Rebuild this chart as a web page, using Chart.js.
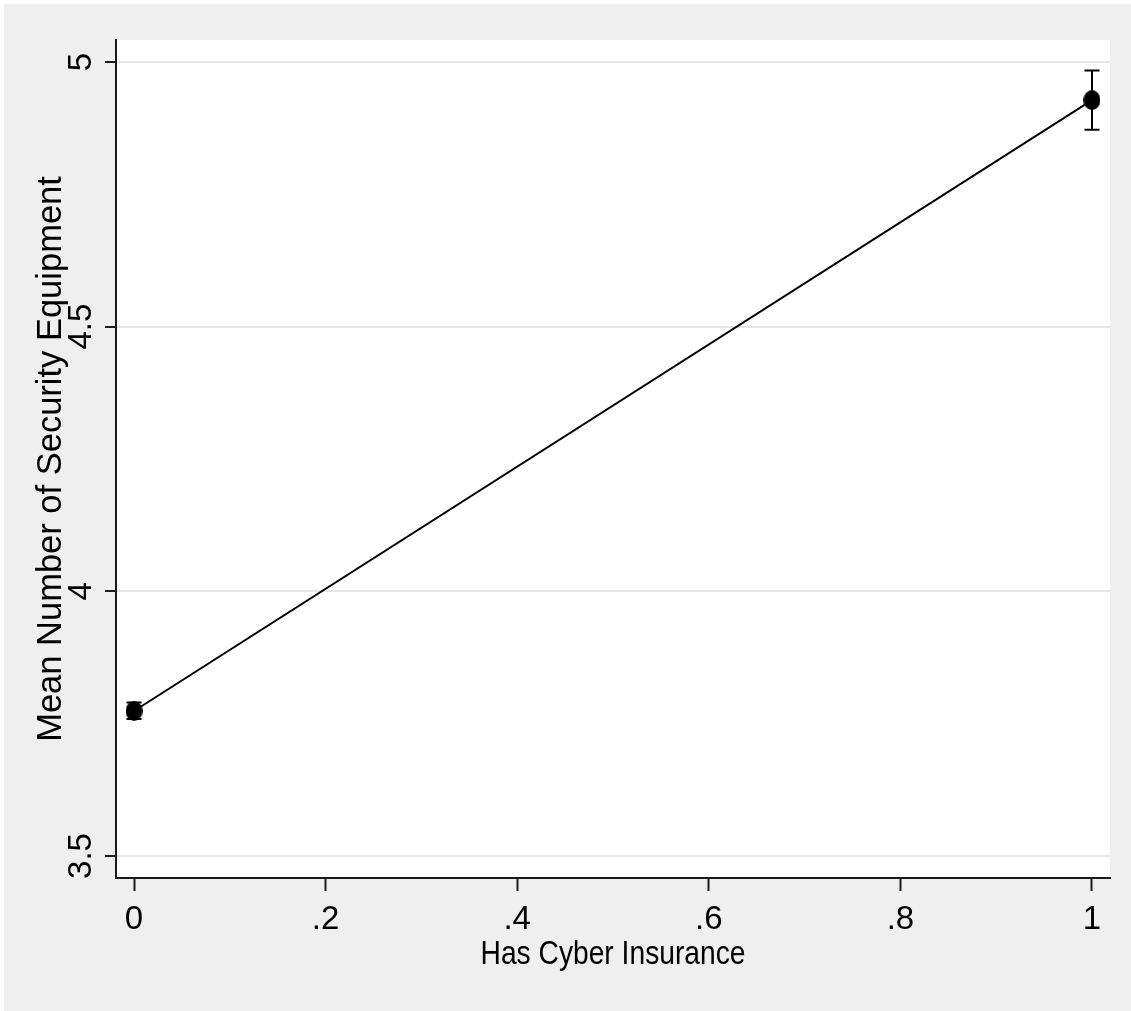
<!DOCTYPE html>
<html>
<head>
<meta charset="utf-8">
<title>Mean Number of Security Equipment by Cyber Insurance</title>
<script src="https://cdn.jsdelivr.net/npm/chart.js@4.4.1/dist/chart.umd.min.js"></script>
<style>
  html, body { margin: 0; padding: 0; background: #ffffff; }
  #wrap { width: 1131px; height: 1011px; }
  canvas { display: block; }
</style>
</head>
<body>
<div id="wrap"><canvas id="chart" width="1131" height="1011"></canvas></div>
<script>
// Has Cyber Insurance (0/1) and the mean equipment count with its confidence interval
const insurance = [0, 1];
const meanEquipment = [3.774, 4.928];
const ciLower = [3.759, 4.872];
const ciUpper = [3.790, 4.984];

// Axis ticks
const xTickValues = [0, 0.2, 0.4, 0.6, 0.8, 1];
const xTickLabels = ['0', '.2', '.4', '.6', '.8', '1'];
const yTickValues = [3.5, 4, 4.5, 5];
const yTickLabels = ['3.5', '4', '4.5', '5'];

const xTitleText = 'Has Cyber Insurance';
const yTitleText = 'Mean Number of Security Equipment';

const INK = '#000000';
const AXIS = '#1a1a1a';
const GRID = '#e6e6e6';
const PANEL = '#efefef';
const FAMILY = '"Liberation Sans", Arial, Helvetica, sans-serif';

// Slightly tall oval marker
function ovalMarker(w, h) {
  const c = document.createElement('canvas');
  c.width = w; c.height = h;
  const g = c.getContext('2d');
  g.fillStyle = INK;
  g.beginPath();
  g.ellipse(w / 2, h / 2, w / 2, h / 2, 0, 0, Math.PI * 2);
  g.fill();
  return c;
}
const marker = ovalMarker(17, 20);

// Grey page, white plot region
const backdrop = {
  id: 'backdrop',
  beforeDraw(chart) {
    const { ctx, chartArea: a, width, height } = chart;
    ctx.save();
    ctx.fillStyle = '#ffffff';
    ctx.fillRect(0, 0, width, height);
    ctx.fillStyle = PANEL;
    ctx.fillRect(4, 4, width - 4, height - 4);
    ctx.fillStyle = '#ffffff';
    ctx.fillRect(a.left, a.top, a.right - a.left, a.bottom - a.top);
    ctx.restore();
  }
};

// Capped confidence-interval bars
const errorBars = {
  id: 'errorBars',
  beforeDatasetsDraw(chart) {
    const { ctx, scales: { x, y } } = chart;
    ctx.save();
    ctx.strokeStyle = INK;
    ctx.lineWidth = 2;
    for (let i = 0; i < insurance.length; i++) {
      const px = x.getPixelForValue(insurance[i]);
      const lo = y.getPixelForValue(ciLower[i]);
      const hi = y.getPixelForValue(ciUpper[i]);
      const cap = 7.5;
      ctx.beginPath();
      ctx.moveTo(px, lo); ctx.lineTo(px, hi);
      ctx.moveTo(px - cap, lo); ctx.lineTo(px + cap, lo);
      ctx.moveTo(px - cap, hi); ctx.lineTo(px + cap, hi);
      ctx.stroke();
    }
    ctx.restore();
  }
};

// Condensed x-axis title, centred under the x scale
const xAxisTitle = {
  id: 'xAxisTitle',
  afterDraw(chart) {
    const { ctx, scales: { x } } = chart;
    ctx.save();
    ctx.fillStyle = INK;
    ctx.font = '33.5px ' + FAMILY;
    ctx.textAlign = 'center';
    ctx.textBaseline = 'alphabetic';
    ctx.translate((x.left + x.right) / 2, x.bottom - 47);
    ctx.scale(0.842, 1);
    ctx.fillText(xTitleText, 0, 0);
    ctx.restore();
  }
};

new Chart(document.getElementById('chart'), {
  type: 'line',
  data: {
    datasets: [{
      data: insurance.map((v, i) => ({ x: v, y: meanEquipment[i] })),
      borderColor: INK,
      borderWidth: 2,
      pointStyle: marker,
      pointRadius: 10,
      pointHoverRadius: 10,
      tension: 0,
      fill: false
    }]
  },
  options: {
    responsive: false,
    animation: false,
    events: [],
    layout: { padding: { top: 40, right: 21, left: 0, bottom: 0 } },
    plugins: {
      legend: { display: false },
      tooltip: { enabled: false },
      title: { display: false }
    },
    scales: {
      x: {
        type: 'linear',
        min: -0.0188,
        max: 1.0188,
        afterBuildTicks(scale) { scale.ticks = xTickValues.map(v => ({ value: v })); },
        afterFit(scale) { scale.height = 133; },
        ticks: {
          autoSkip: false,
          maxRotation: 0,
          minRotation: 0,
          padding: 9,
          color: INK,
          font: { family: FAMILY, size: 33 },
          callback: (v, i) => xTickLabels[i]
        },
        grid: {
          drawOnChartArea: false,
          drawTicks: true,
          tickLength: 13,
          tickWidth: 2,
          tickColor: AXIS
        },
        border: { display: true, color: AXIS, width: 2 },
        title: { display: false }
      },
      y: {
        type: 'linear',
        min: 3.4585,
        max: 5.0415,
        afterBuildTicks(scale) { scale.ticks = yTickValues.map(v => ({ value: v })); },
        afterFit(scale) { scale.width = 116; },
        ticks: {
          autoSkip: false,
          minRotation: 90,
          maxRotation: 90,
          crossAlign: 'center',
          padding: 0,
          color: INK,
          font: { family: FAMILY, size: 33 },
          callback: (v, i) => yTickLabels[i]
        },
        grid: {
          color: GRID,
          lineWidth: 2,
          drawTicks: true,
          tickLength: 11,
          tickWidth: 2,
          tickColor: AXIS
        },
        border: { display: true, color: AXIS, width: 2 },
        title: {
          display: true,
          text: yTitleText,
          color: INK,
          font: { family: FAMILY, size: 34.5 },
          padding: { top: 31, bottom: 0 }
        }
      }
    }
  },
  plugins: [backdrop, errorBars, xAxisTitle]
});
</script>
</body>
</html>
